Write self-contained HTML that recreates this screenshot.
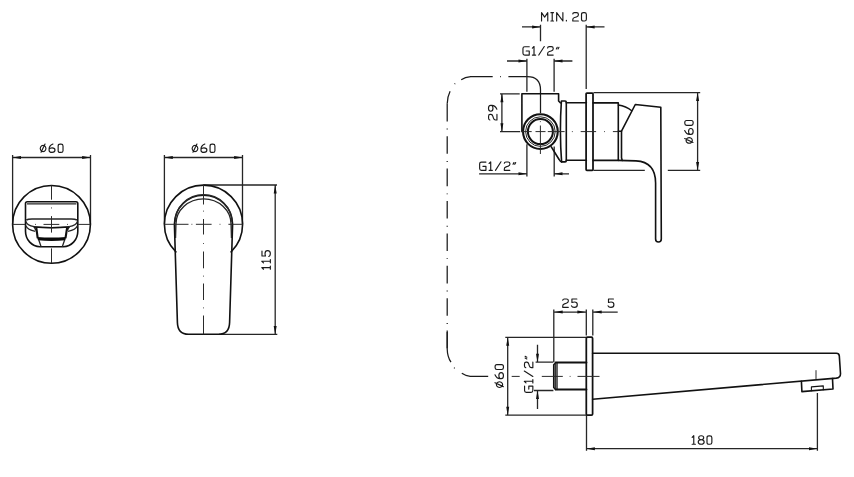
<!DOCTYPE html>
<html><head><meta charset="utf-8"><title>Drawing</title>
<style>
html,body{margin:0;padding:0;background:#fff;}
body{width:854px;height:477px;overflow:hidden;font-family:"Liberation Sans",sans-serif;}
svg{display:block;}
.thin path{fill:none;stroke:#262626;stroke-width:1.3;}
.cl path{fill:none;stroke:#2a2a2a;stroke-width:1;}
.obj path,.obj rect,.obj circle{fill:none;stroke:#111;stroke-width:1.6;stroke-linejoin:round;stroke-linecap:round;}
.t path{fill:none;stroke:#1a1a1a;stroke-linejoin:round;stroke-linecap:round;}
.a{fill:#111;stroke:none;}
.hose path{fill:none;stroke:#1a1a1a;stroke-width:1.25;}
</style></head>
<body>
<svg width="854" height="477" viewBox="0 0 854 477">
<rect width="854" height="477" fill="#fff"/>
<g class="thin">
<path d="M12.6,155 V224.4 M90.5,155 V224.4 M12.6,157.5 H90.5"/>
</g>
<path class="a" transform="translate(12.6,157.5) rotate(180)" d="M0,0 L-8.4,-1.5 L-8.4,1.5 Z"/>
<path class="a" transform="translate(90.5,157.5) rotate(0)" d="M0,0 L-8.4,-1.5 L-8.4,1.5 Z"/>
<g class="t" style="stroke-width:1.28" transform="translate(40.25,152.45) scale(0.9)"><path transform="translate(0.00,-9.5)" d="M3.15,1.6 A3.15,3.5 0 1 0 3.16,1.6 Z M0.9,9.3 L5.3,0.1"/><path transform="translate(9.80,-9.5)" d="M4.3,0.1 Q0,2 0,5.6 V7 Q0,9.5 3.3,9.5 Q6.6,9.5 6.6,6.9 Q6.6,4.4 3.3,4.4 Q0.9,4.4 0,6"/><path transform="translate(19.90,-9.5)" d="M2.2,0.2 H3.2 Q5.4,0.2 5.4,2.2 V7.5 Q5.4,9.5 3.2,9.5 H2.2 Q0,9.5 0,7.5 V2.2 Q0,0.2 2.2,0.2 Z"/></g>
<g class="obj">
<circle cx="51.5" cy="224.4" r="38.9"/>
<path d="M27.3,201.8 H76 Q77.8,201.8 77.8,203.6 V231.2 A14.4,15.5 0 0 1 63.4,246.7 H39.9 A14.4,15.5 0 0 1 25.5,231.2 V203.6 Q25.5,201.8 27.3,201.8 Z"/>
</g>
<g class="thin">
<path d="M27,203.8 H76.4"/>
<path style="stroke-width:1.7" d="M26.3,220 Q28,219.1 32,219 H71.3 Q75,219.1 77,220"/>
<path d="M25.9,221.4 Q27,225.5 34.1,226.7 M25.9,225.8 Q27.5,230 35.3,231.3"/>
<path d="M77.4,221.4 Q76.3,225.5 69.2,226.7 M77.4,225.8 Q75.8,230 68,231.3"/>
<path d="M34.1,226.9 Q51.5,228.2 69.2,226.9"/>
<path d="M34.1,226.8 L35.9,230.4 M69.2,226.8 L67.4,230.4"/>
<path d="M38.8,240 L41.1,246.7 M64.6,240 L62.3,246.7"/>
</g>
<g class="obj">
<path style="stroke-width:2.1" d="M36.4,228.3 L37.6,237.5 M67,228.3 L65.6,237.5"/>
<path style="stroke-width:1.5" d="M34.3,227 Q51.5,228.3 69,227"/>
</g>
<path fill="#0a0a0a" d="M37.3,236.9 Q51.5,238.3 65.9,236.9 L65.4,240.3 Q51.5,241.6 37.9,240.3 Z"/>
<g class="cl">
<path d="M51.5,185.5 V199.7 M51.5,207.5 V208.4 M51.5,216.1 V232.6 M51.5,248.4 V263.2"/>
<path d="M12.5,224.4 H25.3 M35.2,224.4 H36 M43.5,224.4 H59.3 M67.2,224.4 H68 M78.1,224.4 H90.4"/>
</g>
<g class="thin">
<path d="M164.4,155 V224.3 M242.5,155 V224.3 M164.4,157.5 H242.5"/>
<path d="M203.5,185 H277 M219,334.3 H277.3 M275.2,185 V334.3"/>
</g>
<path class="a" transform="translate(164.4,157.5) rotate(180)" d="M0,0 L-8.4,-1.5 L-8.4,1.5 Z"/>
<path class="a" transform="translate(242.5,157.5) rotate(0)" d="M0,0 L-8.4,-1.5 L-8.4,1.5 Z"/>
<path class="a" transform="translate(275.2,185) rotate(-90)" d="M0,0 L-8.4,-1.5 L-8.4,1.5 Z"/>
<path class="a" transform="translate(275.2,334.3) rotate(90)" d="M0,0 L-8.4,-1.5 L-8.4,1.5 Z"/>
<g class="t" style="stroke-width:1.28" transform="translate(192.15,152.45) scale(0.9)"><path transform="translate(0.00,-9.5)" d="M3.15,1.6 A3.15,3.5 0 1 0 3.16,1.6 Z M0.9,9.3 L5.3,0.1"/><path transform="translate(9.80,-9.5)" d="M4.3,0.1 Q0,2 0,5.6 V7 Q0,9.5 3.3,9.5 Q6.6,9.5 6.6,6.9 Q6.6,4.4 3.3,4.4 Q0.9,4.4 0,6"/><path transform="translate(19.90,-9.5)" d="M2.2,0.2 H3.2 Q5.4,0.2 5.4,2.2 V7.5 Q5.4,9.5 3.2,9.5 H2.2 Q0,9.5 0,7.5 V2.2 Q0,0.2 2.2,0.2 Z"/></g>
<g class="t" style="stroke-width:1.28" transform="translate(270.35,269.25) rotate(-90) scale(0.9)"><path transform="translate(0.00,-9.5)" d="M0,1.9 L1.8,0 V9.5 M0,9.5 H3.6"/><path transform="translate(7.10,-9.5)" d="M0,1.9 L1.8,0 V9.5 M0,9.5 H3.6"/><path transform="translate(14.20,-9.5)" d="M6,0.2 H0.5 V4.1 Q1.8,3.6 3.3,3.6 Q6.5,3.6 6.5,6.5 Q6.5,9.5 3.2,9.5 Q0.6,9.5 0,7.8"/></g>
<g class="obj">
<path d="M175.9,251.9 A39.1,39.1 0 1 1 231.1,251.9"/>
<path d="M174.4,224.3 A29.1,29.1 0 0 1 232.6,224.3 L229.6,322.5 Q229.3,334.3 218.5,334.3 H188.5 Q177.7,334.3 177.4,322.5 Z"/>
</g>
<g class="thin">
<path d="M175.1,222 A28.4,27.3 0 0 1 231.9,222"/>
<path d="M175.5,238 L175.9,224.3 A27.6,25.4 0 0 1 231.1,224.3 L231.5,238" style="stroke-width:1.4"/>
</g>
<g class="cl">
<path d="M203.5,184.7 V204.5 M203.5,210.7 V211.5 M203.5,219 V234.5 M203.5,243 V243.8 M203.5,251.5 V268.3 M203.5,275.7 V276.5 M203.5,283.5 V300 M203.5,307.5 V308.3 M203.5,315.5 V334.3"/>
<path d="M164.4,224.3 H188.5 M191.5,224.3 H192.3 M195.9,224.3 H211.6 M219.6,224.3 H220.4 M228.4,224.3 H242.6"/>
</g>
<g class="hose">
<path d="M540.5,113 V90 Q540.5,76.7 527.3,76.7 H508.4 M500.1,76.7 H500.9 M492.7,76.7 H470.7 Q465,77.2 461.2,79.7 M454.6,84 L455.2,83.5 M450.1,91.2 Q447.2,97 447.2,103.8"/>
<path d="M447.2,103.8 V349" stroke-dasharray="17.6 7.2 0.9 6.7" stroke-dashoffset="0"/>
<path d="M447.2,332 V349 Q447.4,357 451,362.2 M454.1,367.6 L454.7,368.3 M461.8,373.3 Q465.5,375.8 470.2,376.3 H488.2"/>
</g>
<g class="thin">
<path d="M522,26.9 H540.5 M540.5,24.8 V41.3 M586.2,24.8 V89 M586.2,26.9 H604.5"/>
<path d="M507,61 H526.9 M526.9,58.7 V91.7 M554.1,58.7 V91.7 M554.1,61 H572.4"/>
<path d="M479.1,173.8 H526.9 M526.9,144.2 V176.5 M554.2,146.5 V176.5 M554.1,173.8 H569"/>
<path d="M500,93.8 H519.7 M500,131.6 H520.2 M501.9,93.8 V131.6"/>
<path d="M593.5,92.7 H700.2 M697.6,92.7 V170.3 M667.8,170.3 H700.2 M593.5,170.3 H644.8"/>
</g>
<path class="a" transform="translate(540.5,26.9) rotate(0)" d="M0,0 L-8.4,-1.5 L-8.4,1.5 Z"/>
<path class="a" transform="translate(586.2,26.9) rotate(180)" d="M0,0 L-8.4,-1.5 L-8.4,1.5 Z"/>
<path class="a" transform="translate(526.9,61) rotate(0)" d="M0,0 L-8.4,-1.5 L-8.4,1.5 Z"/>
<path class="a" transform="translate(554.1,61) rotate(180)" d="M0,0 L-8.4,-1.5 L-8.4,1.5 Z"/>
<path class="a" transform="translate(526.9,173.8) rotate(0)" d="M0,0 L-8.4,-1.5 L-8.4,1.5 Z"/>
<path class="a" transform="translate(554.1,173.8) rotate(180)" d="M0,0 L-8.4,-1.5 L-8.4,1.5 Z"/>
<path class="a" transform="translate(501.9,93.8) rotate(-90)" d="M0,0 L-8.4,-1.5 L-8.4,1.5 Z"/>
<path class="a" transform="translate(501.9,131.6) rotate(90)" d="M0,0 L-8.4,-1.5 L-8.4,1.5 Z"/>
<path class="a" transform="translate(697.6,92.7) rotate(-90)" d="M0,0 L-8.4,-1.5 L-8.4,1.5 Z"/>
<path class="a" transform="translate(697.6,170.3) rotate(90)" d="M0,0 L-8.4,-1.5 L-8.4,1.5 Z"/>
<g class="t" style="stroke-width:1.28" transform="translate(541.55,21.0) scale(0.9)"><path transform="translate(0.00,-9.5)" d="M0,9.5 V0.2 L3.45,5.2 L6.9,0.2 V9.5"/><path transform="translate(10.40,-9.5)" d="M0,0.2 H2.9 M1.45,0.2 V9.5 M0,9.5 H2.9"/><path transform="translate(16.80,-9.5)" d="M0,9.5 V0.2 L6.9,9.5 V0.2"/><path transform="translate(27.20,-9.5)" d="M0.4,8.7 V9.5"/><path transform="translate(34.50,-9.5)" d="M0.2,1.6 Q0.3,0.2 2,0.2 H4.4 Q6.4,0.2 6.4,2 V2.8 Q6.4,4.4 4.2,5 L2.2,5.6 Q0.2,6.2 0.2,8 V9.5 H6.4"/><path transform="translate(44.40,-9.5)" d="M2.2,0.2 H3.2 Q5.4,0.2 5.4,2.2 V7.5 Q5.4,9.5 3.2,9.5 H2.2 Q0,9.5 0,7.5 V2.2 Q0,0.2 2.2,0.2 Z"/></g>
<g class="t" style="stroke-width:1.28" transform="translate(522.95,55.05) scale(0.9)"><path transform="translate(0.00,-9.5)" d="M7,0.3 H2 Q0,0.3 0,2.2 V7.5 Q0,9.5 2,9.5 H7 V5 H3.6"/><path transform="translate(10.50,-9.5)" d="M0,1.9 L1.8,0 V9.5 M0,9.5 H3.6"/><path transform="translate(17.60,-9.5)" d="M0,9.5 L6.1,0"/><path transform="translate(27.20,-9.5)" d="M0.2,1.6 Q0.3,0.2 2,0.2 H4.4 Q6.4,0.2 6.4,2 V2.8 Q6.4,4.4 4.2,5 L2.2,5.6 Q0.2,6.2 0.2,8 V9.5 H6.4"/><path transform="translate(37.10,-9.5)" d="M0,2.8 L1,0.9 M1.9,2.8 L2.9,0.9"/></g>
<g class="t" style="stroke-width:1.28" transform="translate(479.65,170.35) scale(0.9)"><path transform="translate(0.00,-9.5)" d="M7,0.3 H2 Q0,0.3 0,2.2 V7.5 Q0,9.5 2,9.5 H7 V5 H3.6"/><path transform="translate(10.50,-9.5)" d="M0,1.9 L1.8,0 V9.5 M0,9.5 H3.6"/><path transform="translate(17.60,-9.5)" d="M0,9.5 L6.1,0"/><path transform="translate(27.20,-9.5)" d="M0.2,1.6 Q0.3,0.2 2,0.2 H4.4 Q6.4,0.2 6.4,2 V2.8 Q6.4,4.4 4.2,5 L2.2,5.6 Q0.2,6.2 0.2,8 V9.5 H6.4"/><path transform="translate(37.10,-9.5)" d="M0,2.8 L1,0.9 M1.9,2.8 L2.9,0.9"/></g>
<g class="t" style="stroke-width:1.28" transform="translate(496.95,120.15) rotate(-90) scale(0.9)"><path transform="translate(0.00,-9.5)" d="M0.2,1.6 Q0.3,0.2 2,0.2 H4.4 Q6.4,0.2 6.4,2 V2.8 Q6.4,4.4 4.2,5 L2.2,5.6 Q0.2,6.2 0.2,8 V9.5 H6.4"/><path transform="translate(9.90,-9.5)" d="M2.3,9.4 Q6.6,7.5 6.6,3.9 V2.5 Q6.6,0.1 3.3,0.1 Q0,0.1 0,2.6 Q0,5.1 3.3,5.1 Q5.7,5.1 6.6,3.5"/></g>
<g class="t" style="stroke-width:1.28" transform="translate(693.15,143.25) rotate(-90) scale(0.9)"><path transform="translate(0.00,-9.5)" d="M3.15,1.6 A3.15,3.5 0 1 0 3.16,1.6 Z M0.9,9.3 L5.3,0.1"/><path transform="translate(9.80,-9.5)" d="M4.3,0.1 Q0,2 0,5.6 V7 Q0,9.5 3.3,9.5 Q6.6,9.5 6.6,6.9 Q6.6,4.4 3.3,4.4 Q0.9,4.4 0,6"/><path transform="translate(19.90,-9.5)" d="M2.2,0.2 H3.2 Q5.4,0.2 5.4,2.2 V7.5 Q5.4,9.5 3.2,9.5 H2.2 Q0,9.5 0,7.5 V2.2 Q0,0.2 2.2,0.2 Z"/></g>
<g class="obj">
<path d="M521.9,131.6 V93.8 H558.6 V101 L560.3,102.8 M551.3,146.9 L559.1,159.5 Q560,161.2 561.6,161.9"/>
<path d="M561.4,101 Q559.3,131.4 561.6,161.9 H565.1 Q566.3,161.9 566.3,160.7 V102.2 Q566.3,101 565.1,101 Z"/>
<path d="M566.2,102.8 H586.4 M566.2,160.2 H586.4"/>
<rect x="586.1" y="93" width="6.9" height="77.4" rx="0.8" style="stroke-width:1.75"/>
<path d="M593.2,102.9 H618.3 V160.4 H593.2"/>
<path d="M618.3,131.2 H621.5 V157.7 L622.2,160.4"/>
<path style="stroke-width:1.3" d="M618.3,105 Q626,106 631.7,110.8"/>
<path d="M621.5,131.2 L635.3,104.5 L660.8,107.2 L661.3,239 Q661.3,242 658.4,242 Q655.6,242 655.6,239 V183 Q655.6,162 636,160.9 L618.3,160.4"/>
</g>
<g fill="none" stroke="#111">
<circle cx="540.4" cy="131.6" r="17.35" style="stroke-width:2.1"/>
<circle cx="540.4" cy="131.6" r="14.8" style="stroke-width:0.9"/>
<circle cx="540.4" cy="131.6" r="12.5" style="stroke-width:2"/>
</g>
<g class="cl">
<path d="M522.1,131.6 H531.7 M535.5,131.6 H545.5 M547.8,131.6 H564.6 M571.9,131.6 H572.7 M580.7,131.6 H596.1 M604.1,131.6 H604.9 M612.9,131.6 H618.3"/>
<path d="M540.4,121.3 V122.1 M540.4,125.5 V154"/>
</g>
<g class="thin">
<path d="M553.8,312.1 H586.3 M553.8,309.4 V362 M586.3,309.4 V335.5 M592.8,309.4 V335.5 M592.8,312.1 H617.7"/>
<path d="M505.3,337.4 H586.3 M505.3,415.2 H586.3 M507.7,337.4 V415.2"/>
<path d="M535.6,362.2 H553.4 M534,390.5 H553.4 M537.5,344.8 V362.2 M537.5,390.5 V408.9"/>
<path d="M586.5,415.2 V450.8 M586.5,448.7 H817.5 M817.4,393 V450.8"/>
</g>
<path class="a" transform="translate(554.3,312.1) rotate(180)" d="M0,0 L-8.4,-1.5 L-8.4,1.5 Z"/>
<path class="a" transform="translate(585.8,312.1) rotate(0)" d="M0,0 L-8.4,-1.5 L-8.4,1.5 Z"/>
<path class="a" transform="translate(593.3,312.1) rotate(180)" d="M0,0 L-8.4,-1.5 L-8.4,1.5 Z"/>
<path class="a" transform="translate(507.7,337.4) rotate(-90)" d="M0,0 L-8.4,-1.5 L-8.4,1.5 Z"/>
<path class="a" transform="translate(507.7,415.2) rotate(90)" d="M0,0 L-8.4,-1.5 L-8.4,1.5 Z"/>
<path class="a" transform="translate(537.5,362.2) rotate(90)" d="M0,0 L-8.4,-1.5 L-8.4,1.5 Z"/>
<path class="a" transform="translate(537.5,390.5) rotate(-90)" d="M0,0 L-8.4,-1.5 L-8.4,1.5 Z"/>
<path class="a" transform="translate(586.5,448.7) rotate(180)" d="M0,0 L-8.4,-1.5 L-8.4,1.5 Z"/>
<path class="a" transform="translate(817.4,448.7) rotate(0)" d="M0,0 L-8.4,-1.5 L-8.4,1.5 Z"/>
<g class="t" style="stroke-width:1.28" transform="translate(562.55,307.35) scale(0.9)"><path transform="translate(0.00,-9.5)" d="M0.2,1.6 Q0.3,0.2 2,0.2 H4.4 Q6.4,0.2 6.4,2 V2.8 Q6.4,4.4 4.2,5 L2.2,5.6 Q0.2,6.2 0.2,8 V9.5 H6.4"/><path transform="translate(9.90,-9.5)" d="M6,0.2 H0.5 V4.1 Q1.8,3.6 3.3,3.6 Q6.5,3.6 6.5,6.5 Q6.5,9.5 3.2,9.5 Q0.6,9.5 0,7.8"/></g>
<g class="t" style="stroke-width:1.28" transform="translate(608.05,307.35) scale(0.9)"><path transform="translate(0.00,-9.5)" d="M6,0.2 H0.5 V4.1 Q1.8,3.6 3.3,3.6 Q6.5,3.6 6.5,6.5 Q6.5,9.5 3.2,9.5 Q0.6,9.5 0,7.8"/></g>
<g class="t" style="stroke-width:1.28" transform="translate(692.15,444.25) scale(0.9)"><path transform="translate(0.00,-9.5)" d="M0,1.9 L1.8,0 V9.5 M0,9.5 H3.6"/><path transform="translate(6.75,-9.5)" d="M3.3,0.1 Q6.1,0.1 6.1,2.3 Q6.1,4.5 3.3,4.5 Q0.5,4.5 0.5,2.3 Q0.5,0.1 3.3,0.1 Z M3.3,4.5 Q6.6,4.5 6.6,7 Q6.6,9.5 3.3,9.5 Q0,9.5 0,7 Q0,4.5 3.3,4.5 Z"/><path transform="translate(16.50,-9.5)" d="M2.2,0.2 H3.2 Q5.4,0.2 5.4,2.2 V7.5 Q5.4,9.5 3.2,9.5 H2.2 Q0,9.5 0,7.5 V2.2 Q0,0.2 2.2,0.2 Z"/></g>
<g class="t" style="stroke-width:1.28" transform="translate(503.45,387.45) rotate(-90) scale(0.9)"><path transform="translate(0.00,-9.5)" d="M3.15,1.6 A3.15,3.5 0 1 0 3.16,1.6 Z M0.9,9.3 L5.3,0.1"/><path transform="translate(9.80,-9.5)" d="M4.3,0.1 Q0,2 0,5.6 V7 Q0,9.5 3.3,9.5 Q6.6,9.5 6.6,6.9 Q6.6,4.4 3.3,4.4 Q0.9,4.4 0,6"/><path transform="translate(19.90,-9.5)" d="M2.2,0.2 H3.2 Q5.4,0.2 5.4,2.2 V7.5 Q5.4,9.5 3.2,9.5 H2.2 Q0,9.5 0,7.5 V2.2 Q0,0.2 2.2,0.2 Z"/></g>
<g class="t" style="stroke-width:1.28" transform="translate(532.85,392.35) rotate(-90) scale(0.9)"><path transform="translate(0.00,-9.5)" d="M7,0.3 H2 Q0,0.3 0,2.2 V7.5 Q0,9.5 2,9.5 H7 V5 H3.6"/><path transform="translate(10.50,-9.5)" d="M0,1.9 L1.8,0 V9.5 M0,9.5 H3.6"/><path transform="translate(17.60,-9.5)" d="M0,9.5 L6.1,0"/><path transform="translate(27.20,-9.5)" d="M0.2,1.6 Q0.3,0.2 2,0.2 H4.4 Q6.4,0.2 6.4,2 V2.8 Q6.4,4.4 4.2,5 L2.2,5.6 Q0.2,6.2 0.2,8 V9.5 H6.4"/><path transform="translate(37.10,-9.5)" d="M0,2.8 L1,0.9 M1.9,2.8 L2.9,0.9"/></g>
<g class="obj">
<rect x="586.3" y="337.2" width="6.3" height="78" rx="1.2" style="stroke-width:1.75"/>
<path style="stroke-width:2" d="M586.4,362.6 H555.6 M555.6,389.6 H586.4"/>
<path style="stroke-width:1.3" d="M555.6,362.6 L553.6,364.6 V387.6 L555.6,389.6 M555.2,363 V389.2 M557,362.6 V389.6"/>
<path d="M592.6,353.3 H836.4 Q839,353.3 839.3,355.8 L840.5,373.5 Q840.6,377.6 836.3,378.1 L592.6,399.3"/>
<path d="M801.4,381.2 L801.9,391.6 L833,389 L832.5,378.6"/>
<path d="M811.4,390.8 V386.9 L823.3,385.9 V389.8" style="stroke-width:1.1"/>
</g>
<g class="cl">
<path d="M511.7,376.4 H519.7 M541.8,376.4 H562.8 M569.7,376.4 H570.5 M577.5,376.4 H599.5"/>
<path d="M816,370.2 V379"/>
</g>
</svg>
</body></html>
